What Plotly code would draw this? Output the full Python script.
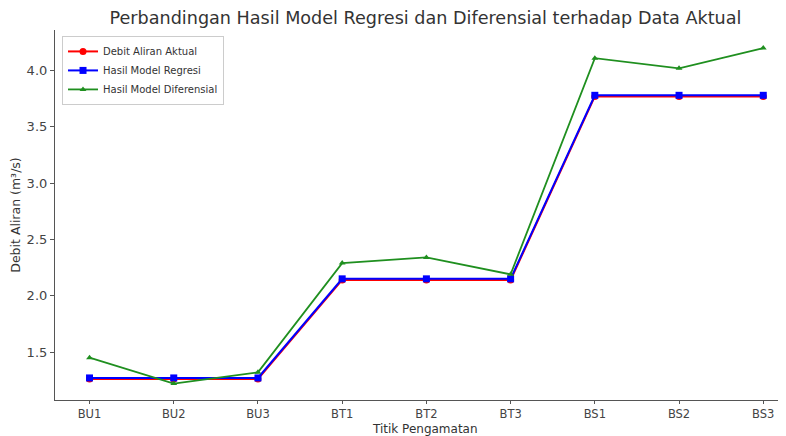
import plotly.graph_objects as go

categories = ["BU1", "BU2", "BU3", "BT1", "BT2", "BT3", "BS1", "BS2", "BS3"]
aktual = [1.26, 1.26, 1.26, 2.14, 2.14, 2.14, 3.77, 3.77, 3.77]
regresi = [1.27, 1.27, 1.27, 2.15, 2.15, 2.15, 3.78, 3.78, 3.78]
diferensial = [1.45, 1.22, 1.32, 2.29, 2.34, 2.19, 4.11, 4.02, 4.20]

x_idx = list(range(len(categories)))

fig = go.Figure()
fig.add_trace(go.Scatter(x=x_idx, y=aktual, mode="lines+markers", name="Debit Aliran Aktual",
                         line=dict(color="#ff0000", width=2), marker=dict(symbol="circle", size=7, color="#ff0000")))
fig.add_trace(go.Scatter(x=x_idx, y=regresi, mode="lines+markers", name="Hasil Model Regresi",
                         line=dict(color="#0000ff", width=2), marker=dict(symbol="square", size=7, color="#0000ff")))
fig.add_trace(go.Scatter(x=x_idx, y=diferensial, mode="lines+markers", name="Hasil Model Diferensial",
                         line=dict(color="#1f8f1f", width=1.8), marker=dict(symbol="triangle-up", size=6, color="#1f8f1f")))

font_family = "DejaVu Sans"
# the page body adds an 8px offset; figure is sized to fill the rest of the window
fig.update_layout(
    width=778, height=428,
    margin=dict(l=47, r=0, t=22, b=36),
    paper_bgcolor="white", plot_bgcolor="white",
    font=dict(family=font_family, color="#333333"),
    title=dict(text="Perbandingan Hasil Model Regresi dan Diferensial terhadap Data Aktual",
               x=(425.5 - 8) / 778, xanchor="center", y=1 - (18 - 8) / 428, yanchor="middle",
               font=dict(size=17.6, color="#333333", family=font_family)),
    showlegend=True,
    legend=dict(x=0.0096, y=0.984, xanchor="left", yanchor="top",
                bgcolor="white", bordercolor="#cccccc", borderwidth=1,
                font=dict(size=10, color="#333333"), tracegroupgap=0,
                itemwidth=30),
    xaxis=dict(
        tickmode="array", tickvals=x_idx, ticktext=categories,
        range=[-0.41, 8.27], showgrid=False, zeroline=False,
        showline=True, linecolor="#555555", linewidth=1.2,
        ticks="outside", ticklen=3, tickcolor="#555555",
        tickfont=dict(size=11.5, color="#444444"),
        automargin=False,
    ),
    yaxis=dict(
        range=[1.074, 4.36], tickvals=[1.5, 2.0, 2.5, 3.0, 3.5, 4.0],
        ticktext=["1.5", "2.0", "2.5", "3.0", "3.5", "4.0"],
        showgrid=False, zeroline=False,
        showline=True, linecolor="#555555", linewidth=1.2,
        ticks="outside", ticklen=4, tickcolor="#555555",
        tickfont=dict(size=13, color="#444444"),
        title=dict(text="Debit Aliran (m³/s)", font=dict(size=12.5, color="#333333"), standoff=8),
        automargin=False,
    ),
    annotations=[dict(text="Titik Pengamatan", xref="paper", yref="paper", x=(425 - 55) / 731, y=0,
                      xanchor="center", yanchor="middle", yshift=-28.5, showarrow=False,
                      font=dict(size=12, color="#333333", family=font_family))],
)

fig.write_html("out.html")
